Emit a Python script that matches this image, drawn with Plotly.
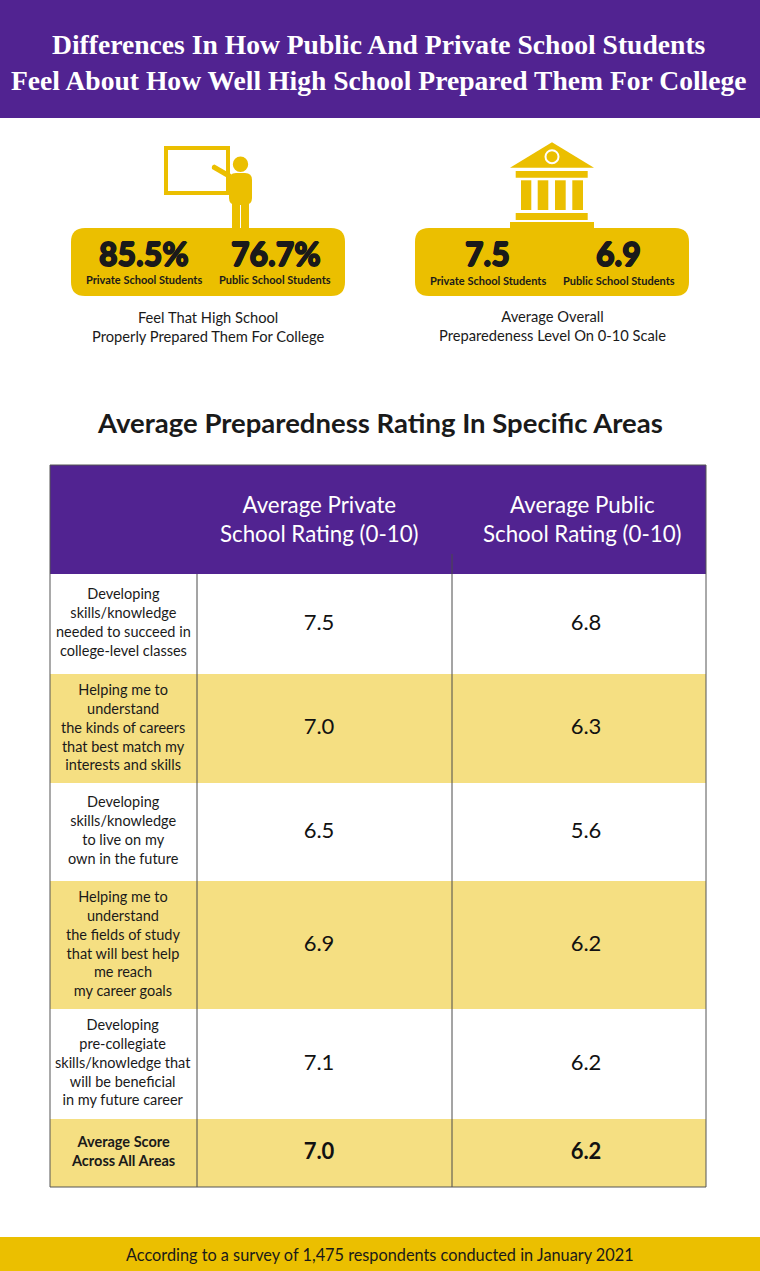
#!/usr/bin/env python3

import numpy as np
import plotly.graph_objects as go

#  Text and values
title_lines = [ 'Differences In How Public And Private School Students',
                'Feel About How Well High School Prepared Them For College' ]
group_labels = [ 'Private School Students', 'Public School Students' ]
left_stats = [ '85.5%', '76.7%' ]
left_caption = 'Feel That High School<br>Properly Prepared Them For College'
right_stats = [ 7.5, 6.9 ]
right_caption = 'Average Overall<br>Preparedeness Level On 0-10 Scale'
table_title = 'Average Preparedness Rating In Specific Areas'
col_headers = [ 'Average Private<br>School Rating (0-10)',
                'Average Public<br>School Rating (0-10)' ]
row_labels = [ 'Developing<br>skills/knowledge<br>needed to succeed in<br>college-level classes',
               'Helping me to<br>understand<br>the kinds of careers<br>that best match my<br>interests and skills',
               'Developing<br>skills/knowledge<br>to live on my<br>own in the future',
               'Helping me to<br>understand<br>the fields of study<br>that will best help<br>me reach<br>my career goals',
               'Developing<br>pre-collegiate<br>skills/knowledge that<br>will be beneficial<br>in my future career',
               '<b>Average Score<br>Across All Areas</b>' ]
private_ratings = [ 7.5, 7.0, 6.5, 6.9, 7.1, 7.0 ]
public_ratings = [ 6.8, 6.3, 5.6, 6.2, 6.2, 6.2 ]
footer = 'According to a survey of 1,475 respondents conducted in January 2021'

#  Layout, in page pixels
WIDTH, HEIGHT = 760, 1271
row_heights = [ 100, 109, 98, 128, 110, 68 ]
TABLE_LEFT, TABLE_RIGHT = 50, 706
TABLE_TOP, HEADER_BOTTOM = 465, 574
COL_1, COL_2 = 197, 452

PURPLE = '#512391'
GOLD = '#EBBF00'
PALE_GOLD = '#F5DF82'
INK = '#1A1A1A'
SANS = 'Lato'
SERIF = 'Liberation Serif'
#  No black cut of the font here, so thicken the big numbers with a tight shadow
HEAVY = '0.7px 0 0 #1A1A1A, -0.7px 0 0 #1A1A1A, 0 0.6px 0 #1A1A1A, 0 -0.6px 0 #1A1A1A'


def rounded_box( x0, y0, x1, y1, r ):
    return ( f'M{x0+r},{y0} L{x1-r},{y0} Q{x1},{y0} {x1},{y0+r} L{x1},{y1-r} '
             f'Q{x1},{y1} {x1-r},{y1} L{x0+r},{y1} Q{x0},{y1} {x0},{y1-r} '
             f'L{x0},{y0+r} Q{x0},{y0} {x0+r},{y0} Z' )


def add_text( fig, x, y, text, size, color=INK, family=SANS, weight=None, shadow=None ):
    font = dict( size=size, color=color, family=family )
    if weight is not None:
        font['weight'] = weight
    if shadow is not None:
        font['shadow'] = shadow
    fig.add_annotation( x=x, y=y, xref='x', yref='y', text=text, showarrow=False,
                        font=font, align='center', xanchor='center', yanchor='middle' )


def add_rect( fig, x0, y0, x1, y1, color ):
    fig.add_shape( type='rect', x0=x0, y0=y0, x1=x1, y1=y1,
                   fillcolor=color, line_width=0, layer='below' )


def add_vline( fig, x, y0, y1, color='#4A4A4A', width=1 ):
    fig.add_shape( type='line', x0=x, x1=x, y0=y0, y1=y1, line=dict( color=color, width=width ) )


def add_stat_box( fig, x0, y0, x1, y1, stats, stat_x, label_x, label_y, caption, caption_x, caption_y ):
    fig.add_shape( type='path', path=rounded_box( x0, y0, x1, y1, 14 ),
                   fillcolor=GOLD, line_width=0, layer='below' )
    for i in range( 2 ):
        add_text( fig, stat_x[i], 253, stats[i], 32, weight=900, shadow=HEAVY )
        add_text( fig, label_x[i], label_y, group_labels[i], 11, weight=700 )
    add_text( fig, caption_x, caption_y, caption, 14.7 )


def add_teacher_icon( fig ):
    fig.add_shape( type='rect', x0=166, y0=148, x1=228, y1=193,
                   line=dict( color=GOLD, width=4 ), fillcolor='white', layer='below' )
    fig.add_shape( type='circle', x0=232.8, y0=156.5, x1=248.2, y1=171.9,
                   fillcolor=GOLD, line_width=0 )
    fig.add_shape( type='path', path=rounded_box( 229, 173, 252, 205, 7 ),
                   fillcolor=GOLD, line_width=0 )
    fig.add_shape( type='rect', x0=232, y0=200, x1=240, y1=229, fillcolor=GOLD, line_width=0 )
    fig.add_shape( type='rect', x0=241, y0=200, x1=249, y1=229, fillcolor=GOLD, line_width=0 )
    fig.add_shape( type='path', path='M214.5,164.5 L231,174 L231,180 L212,169 Q211,165 214.5,164.5 Z',
                   fillcolor=GOLD, line_width=0 )


def add_bank_icon( fig ):
    fig.add_shape( type='path', path='M552,142.3 L594,167.7 L510,167.7 Z',
                   fillcolor=GOLD, line_width=0 )
    fig.add_shape( type='circle', x0=545.5, y0=150.2, x1=558.5, y1=163.2,
                   fillcolor=GOLD, line=dict( color='white', width=2 ) )
    for x0, x1 in [ (515.7, 587.7) ]:
        fig.add_shape( type='rect', x0=x0, x1=x1, y0=171, y1=177.7, fillcolor=GOLD, line_width=0 )
        fig.add_shape( type='rect', x0=x0, x1=x1, y0=213, y1=220, fillcolor=GOLD, line_width=0 )
    for x0, x1 in [ (521, 531.3), (537.7, 548.3), (555, 565.7), (572.3, 583) ]:
        fig.add_shape( type='rect', x0=x0, x1=x1, y0=180.3, y1=210, fillcolor=GOLD, line_width=0 )
    fig.add_shape( type='rect', x0=510, x1=594, y0=222, y1=229, fillcolor=GOLD, line_width=0 )


def build_figure():

    row_edges = HEADER_BOTTOM + np.cumsum( [ 0 ] + row_heights )
    row_centers = ( row_edges[:-1] + row_edges[1:] ) / 2

    fig = go.Figure()

    #  Table rows
    fig.add_trace( go.Bar( y=row_centers, x=[ TABLE_RIGHT - TABLE_LEFT ] * len( row_heights ),
                           base=TABLE_LEFT, width=row_heights, orientation='h',
                           marker=dict( color=[ 'white', PALE_GOLD ] * 3, line_width=0 ),
                           hoverinfo='skip' ) )

    #  Rating values
    fig.add_trace( go.Scatter( x=[ 319 ] * 6, y=row_centers, mode='text',
                               text=[ f'{v:.1f}' for v in private_ratings[:-1] ] + [ f'<b>{private_ratings[-1]:.1f}</b>' ],
                               textfont=dict( size=22, color='#111111', family=SANS ) ) )
    fig.add_trace( go.Scatter( x=[ 586 ] * 6, y=row_centers, mode='text',
                               text=[ f'{v:.1f}' for v in public_ratings[:-1] ] + [ f'<b>{public_ratings[-1]:.1f}</b>' ],
                               textfont=dict( size=22, color='#111111', family=SANS ) ) )

    #  Banner, footer, table header
    add_rect( fig, 0, 0, WIDTH, 118, PURPLE )
    add_rect( fig, 0, 1237, WIDTH, HEIGHT, GOLD )
    add_rect( fig, TABLE_LEFT, TABLE_TOP, TABLE_RIGHT, HEADER_BOTTOM, PURPLE )

    add_text( fig, 378.5, 44, f'<b>{title_lines[0]}</b>', 27.6, color='white', family=SERIF )
    add_text( fig, 379, 80, f'<b>{title_lines[1]}</b>', 27.6, color='white', family=SERIF )

    add_teacher_icon( fig )
    add_bank_icon( fig )

    add_stat_box( fig, 71, 228, 345, 296, left_stats, [ 144, 275.5 ], [ 144, 275 ], 279,
                  left_caption, 208, 326 )
    add_stat_box( fig, 415, 228, 689, 296, [ f'{v:.1f}' for v in right_stats ], [ 487.5, 618.5 ],
                  [ 488, 619 ], 280, right_caption, 552, 325 )

    add_text( fig, 380, 422, f'<b>{table_title}</b>', 27.5 )
    add_text( fig, 319, 519, col_headers[0], 22.3, color='white' )
    add_text( fig, 582, 519, col_headers[1], 22.3, color='white' )

    for label, y in zip( row_labels, row_centers ):
        add_text( fig, 123, y - 2, label, 14.5 )

    #  Table lines
    add_vline( fig, COL_1, HEADER_BOTTOM, row_edges[-1] )
    add_vline( fig, COL_2, 554, row_edges[-1] )
    fig.add_shape( type='rect', x0=TABLE_LEFT, x1=TABLE_RIGHT, y0=TABLE_TOP, y1=row_edges[-1],
                   line=dict( color='#555555', width=1 ) )

    add_text( fig, 380, 1254, footer, 16.3 )

    fig.update_xaxes( range=[ 0, WIDTH ], visible=False, fixedrange=True )
    fig.update_yaxes( range=[ HEIGHT, 0 ], visible=False, fixedrange=True )
    fig.update_layout( width=WIDTH, height=HEIGHT, margin=dict( l=0, r=0, t=0, b=0 ),
                       paper_bgcolor='white', plot_bgcolor='white', showlegend=False,
                       bargap=0 )
    return fig


if __name__ == '__main__':

    fig = build_figure()
    fig.write_html( 'out.html', config=dict( displayModeBar=False ),
                    post_script="document.body.style.margin='0';document.body.style.overflow='hidden';" )
